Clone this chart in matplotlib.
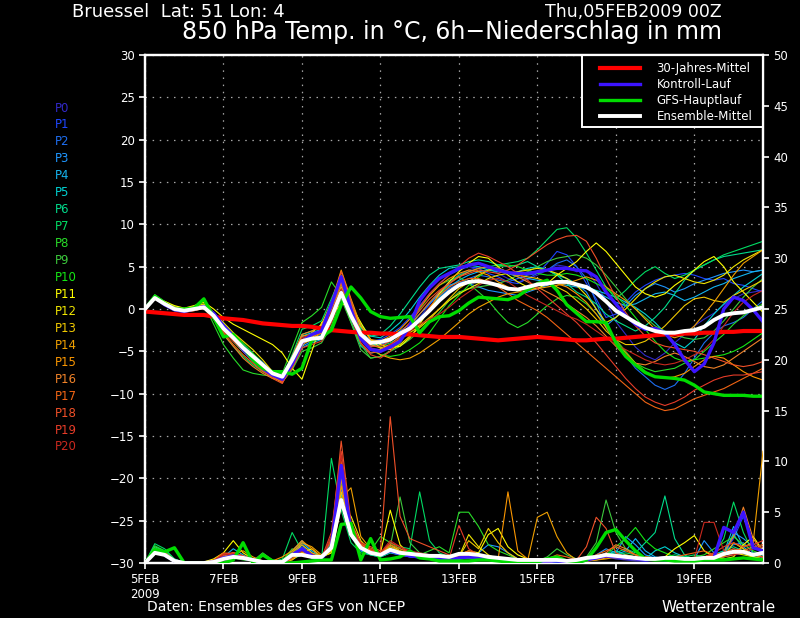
import numpy as np
import matplotlib
matplotlib.use('Agg')
import matplotlib.pyplot as plt
from matplotlib.patches import Rectangle

# time axis: 6-hourly steps, in days since 05FEB2009 00Z
step = 0.25
day_ticks = [0, 2, 4, 6, 8, 10, 12, 14]
day_labels = ['5FEB\n2009', '7FEB', '9FEB', '11FEB', '13FEB', '15FEB', '17FEB', '19FEB']

member_names = ['P%d' % k for k in range(21)]
member_colors = ['#3228c8', '#1e46ff', '#1e6ef0', '#1e96ff', '#14b4f0', '#00d2d2',
                 '#00dc8c', '#00dc64', '#28dc28', '#3cc83c', '#14e614', '#ffff00',
                 '#f0e600', '#f0c800', '#f0a000', '#fa9600', '#f08228', '#f06414',
                 '#f05028', '#e63c28', '#c8281e']

# 850 hPa temperature of the 21 members (degC)
temp_members = [
    [0.0, 1.4, 0.6, 0.1, -0.2, 0.1, 0.4, -0.6, -2.0, -3.2, -4.4, -5.4, -6.4, -7.8, -8.2, -6.2,
     -3.6, -3.0, -2.8, 0.5, 3.2, 0.2, -3.0, -4.6, -4.8, -4.4, -3.6, -2.4, -1.0, 0.5, 2.0, 3.2,
     4.0, 4.6, 5.0, 4.8, 4.2, 3.6, 3.2, 3.5, 4.0, 4.6, 5.2, 5.0, 4.4, 4.6, 3.0, 1.0,
     -1.5, -3.0, -4.5, -5.5, -6.0, -5.2, -4.0, -3.0, -2.0, -1.2, -0.5, 0.5, 1.2, 1.8, 2.0, 2.2],
    [0.0, 1.3, 0.5, -0.1, -0.3, 0.0, 0.3, -0.9, -2.4, -3.6, -4.8, -5.8, -6.8, -7.4, -7.9, -5.5,
     -3.2, -3.6, -3.2, -0.5, 2.8, -0.5, -2.6, -3.8, -3.6, -3.0, -2.2, -1.0, 0.4, 1.8, 3.0, 4.0,
     4.6, 5.0, 4.8, 4.2, 3.8, 3.2, 3.0, 3.6, 4.2, 5.4, 6.8, 6.4, 5.0, 3.0, 1.2, -1.0,
     -0.6, 0.8, 2.0, 2.8, 3.4, 3.8, 4.0, 4.2, 4.0, 3.6, 3.4, 3.6, 3.0, 2.8, 2.4, 2.0],
    [0.0, 1.2, 0.6, 0.0, -0.1, 0.1, 0.3, -0.7, -2.2, -3.3, -4.5, -5.7, -6.9, -7.8, -8.4, -6.4,
     -4.0, -3.6, -3.0, -1.2, 2.0, -0.4, -3.2, -4.4, -4.2, -3.8, -3.0, -2.0, -1.0, 0.0, 1.2, 2.4,
     3.0, 3.6, 4.0, 3.8, 3.4, 3.2, 3.6, 4.0, 4.2, 4.6, 5.4, 5.8, 5.0, 3.6, 0.8, -2.2,
     -4.0, -5.5, -7.0, -8.0, -9.0, -9.5, -9.0, -7.6, -5.8, -4.0, -2.8, -2.0, -1.6, -1.0, 0.0, 1.0],
    [0.0, 1.5, 0.7, 0.1, -0.2, 0.0, 0.2, -0.8, -2.3, -3.5, -4.4, -5.3, -6.3, -7.5, -8.0, -6.6,
     -4.4, -3.8, -3.4, -0.8, 2.4, -0.6, -3.4, -4.4, -4.0, -3.4, -2.6, -1.8, -0.6, 0.6, 1.8, 2.8,
     3.2, 3.0, 2.6, 2.2, 2.0, 1.8, 1.6, 2.0, 2.4, 2.8, 3.2, 3.4, 3.0, 2.0, 0.0, -2.0,
     -1.0, 0.4, 1.6, 2.4, 3.0, 2.6, 2.0, 2.4, 3.0, 3.4, 3.8, 4.2, 4.4, 4.6, 4.4, 4.6],
    [0.0, 1.6, 0.8, 0.2, 0.0, 0.2, 0.5, -0.5, -1.8, -3.0, -4.2, -5.4, -6.6, -7.6, -8.5, -7.0,
     -4.6, -4.0, -3.6, -1.2, 2.2, -1.4, -4.4, -5.2, -5.0, -4.4, -3.6, -2.4, -1.2, 0.0, 1.4, 2.6,
     3.4, 4.0, 4.4, 4.6, 4.6, 4.2, 3.8, 3.6, 3.4, 3.2, 3.0, 2.8, 2.6, 2.4, 2.0, 1.4,
     0.8, 0.4, 0.6, 1.2, 1.8, 2.0, 1.6, 1.0, 1.4, 2.0, 2.6, 3.0, 3.6, 4.0, 4.4, 4.6],
    [0.0, 1.5, 0.7, 0.0, -0.2, 0.1, 0.3, -0.7, -2.4, -3.8, -5.0, -6.2, -7.2, -7.9, -8.3, -6.0,
     -3.2, -2.8, -2.4, 0.0, 3.4, 0.4, -2.2, -3.2, -3.4, -2.6, -1.6, -0.2, 1.4, 2.8, 4.0, 4.8,
     5.0, 5.2, 5.0, 4.6, 4.4, 4.2, 4.4, 4.8, 5.0, 4.6, 4.0, 3.6, 3.0, 2.6, 2.2, 1.8,
     1.4, 0.8, 0.2, -0.6, -1.6, -2.8, -4.0, -4.6, -3.6, -2.0, -0.6, 0.6, 1.6, 2.6, 3.4, 4.2],
    [0.0, 1.4, 0.6, 0.0, -0.3, -0.1, 0.2, -1.0, -2.6, -3.8, -5.0, -6.0, -7.0, -7.8, -8.2, -5.8,
     -3.0, -2.6, -2.0, 0.6, 3.6, 0.8, -1.8, -3.2, -3.0, -2.0, -0.6, 1.0, 2.6, 4.0, 4.8, 5.0,
     5.2, 5.6, 5.8, 5.6, 5.2, 5.0, 5.2, 5.6, 5.0, 4.6, 4.0, 3.0, 2.0, 1.4, 0.6, -0.6,
     -1.4, -2.0, -2.6, -2.0, -1.0, 0.2, 1.8, 3.4, 4.6, 5.2, 5.8, 6.2, 6.4, 6.6, 6.8, 7.0],
    [0.0, 1.3, 0.5, -0.2, -0.4, -0.1, 0.1, -1.2, -3.0, -4.4, -5.6, -6.6, -7.4, -8.0, -8.0, -5.4,
     -2.4, -2.0, -1.4, 1.2, 4.0, 1.0, -2.4, -4.0, -4.4, -4.0, -3.4, -2.6, -1.4, 0.0, 1.6, 3.0,
     4.0, 4.4, 4.8, 5.0, 5.2, 5.4, 5.6, 6.0, 7.0, 8.2, 9.4, 9.6, 8.4, 6.6, 4.6, 2.6,
     1.2, 2.2, 3.4, 4.4, 5.0, 4.2, 3.6, 4.0, 4.6, 5.2, 5.8, 6.4, 6.8, 7.2, 7.6, 8.0],
    [0.0, 1.7, 0.9, 0.3, 0.0, 0.3, 0.6, -1.8, -4.2, -5.8, -7.2, -7.6, -7.8, -7.9, -7.6, -4.6,
     -1.6, -0.8, 0.2, 3.2, 1.6, -1.6, -4.2, -5.8, -5.6, -5.0, -4.0, -2.0, 0.0, 1.6, 2.8, 3.4,
     3.8, 3.0, 2.0, 1.0, -0.4, -1.6, -2.2, -1.6, -0.6, 0.4, 1.2, 1.6, 1.4, 0.6, -0.6, -2.0,
     -3.6, -5.0, -6.4, -7.0, -7.4, -7.2, -7.0, -6.4, -6.0, -5.0, -4.0, -3.0, -1.8, -0.8, 0.0, 0.6],
    [0.0, 1.3, 0.6, 0.0, -0.2, 0.0, 0.2, -0.8, -2.2, -3.3, -4.4, -5.4, -6.6, -7.8, -8.6, -7.2,
     -5.0, -4.6, -4.0, -2.0, 1.2, -1.6, -4.8, -5.8, -5.6, -5.0, -4.4, -3.6, -2.6, -1.6, -0.4, 1.0,
     2.0, 2.4, 2.6, 2.8, 3.0, 3.4, 4.0, 4.4, 5.0, 5.6, 6.0, 6.2, 6.4, 6.0, 5.2, 4.0,
     2.6, 1.2, 0.0, -1.0, -2.0, -2.6, -3.0, -3.4, -3.6, -3.4, -2.6, -1.4, 0.0, 1.4, 2.6, 3.6],
    [0.0, 1.5, 0.7, 0.1, -0.1, 0.2, 0.4, -0.6, -2.0, -3.0, -4.0, -5.2, -6.4, -7.6, -8.4, -6.8,
     -4.2, -3.4, -2.4, 0.2, 3.0, 0.0, -3.0, -4.8, -5.4, -5.6, -5.4, -4.8, -4.0, -2.8, -1.2, 0.4,
     1.6, 2.8, 3.8, 4.6, 5.0, 5.2, 5.0, 4.6, 4.2, 4.0, 4.0, 4.2, 4.0, 3.6, 3.0, 2.4,
     1.6, 0.4, -1.0, -2.4, -3.8, -5.0, -5.8, -6.2, -6.0, -5.8, -5.6, -5.4, -5.0, -4.4, -3.6, -2.8],
    [0.0, 1.2, 0.9, 0.4, 0.1, 0.4, 0.8, 0.0, -1.0, -1.8, -2.4, -3.0, -3.6, -4.2, -5.2, -7.0,
     -8.3, -5.0, -1.6, -0.8, 0.6, 0.4, -1.6, -3.6, -4.2, -4.6, -4.4, -3.4, -1.8, 0.0, 1.8, 3.2,
     4.4, 5.4, 6.2, 6.0, 5.0, 4.0, 3.2, 2.6, 2.4, 3.0, 4.0, 4.8, 5.6, 6.8, 7.8, 6.8,
     5.4, 4.0, 2.6, 1.8, 1.4, 1.8, 2.8, 3.6, 4.6, 5.6, 6.2, 5.0, 3.2, 2.0, 0.8, -0.4],
    [0.0, 1.3, 0.7, 0.2, 0.0, 0.2, 0.6, -0.4, -1.6, -2.8, -3.8, -4.8, -6.0, -7.4, -8.4, -7.0,
     -4.4, -2.8, -1.8, 0.8, 3.0, 0.6, -2.0, -3.6, -4.6, -4.8, -4.2, -3.2, -2.2, -1.2, 0.0, 1.0,
     1.8, 2.4, 3.0, 3.6, 4.0, 4.2, 4.4, 4.6, 4.8, 4.6, 4.2, 3.6, 2.8, 1.6, 0.0, -1.6,
     -1.0, 0.0, 1.2, 2.4, 3.2, 3.8, 4.0, 3.6, 3.2, 3.0, 3.4, 4.0, 5.0, 5.8, 6.4, 7.0],
    [0.0, 1.4, 0.8, 0.1, -0.1, 0.1, 0.5, -0.6, -2.0, -3.2, -4.6, -5.8, -6.8, -7.8, -8.6, -6.6,
     -4.0, -3.4, -2.6, 0.0, 2.6, 0.2, -2.8, -4.2, -4.6, -4.2, -3.6, -2.8, -2.0, -1.0, 0.0, 1.2,
     2.4, 3.2, 4.0, 4.6, 4.8, 4.4, 4.0, 3.8, 3.6, 3.2, 2.6, 2.0, 1.0, 0.0, -1.2, -2.6,
     -3.6, -4.2, -4.2, -3.8, -3.0, -2.0, -0.8, 0.4, 1.2, 1.4, 1.0, 0.8, 1.6, 2.2, 2.8, 3.4],
    [0.0, 1.3, 0.6, -0.1, -0.3, -0.1, 0.2, -1.0, -2.6, -3.8, -5.0, -6.2, -7.2, -8.0, -8.7, -6.8,
     -4.2, -3.6, -2.8, 0.2, 3.8, 0.6, -2.8, -4.6, -5.4, -5.8, -6.0, -5.8, -5.2, -4.4, -3.6, -2.6,
     -1.6, -0.6, 0.2, 0.8, 1.4, 1.8, 2.0, 2.2, 2.4, 2.6, 2.8, 3.0, 3.4, 3.8, 3.4, 2.6,
     1.8, 1.0, 0.0, -1.2, -2.4, -3.0, -3.4, -3.0, -2.0, -0.6, 0.8, 2.4, 4.0, 5.4, 6.2, 7.0],
    [0.0, 1.4, 0.7, 0.0, -0.2, 0.0, 0.4, -0.9, -2.5, -3.6, -4.6, -5.6, -6.6, -7.6, -8.2, -5.8,
     -3.2, -3.0, -2.6, 0.8, 4.6, 1.2, -2.0, -3.6, -3.8, -3.2, -2.4, -1.2, 0.2, 1.6, 2.8, 3.6,
     4.2, 4.6, 4.4, 4.0, 3.2, 2.6, 2.2, 2.4, 2.8, 3.0, 3.0, 2.6, 1.8, 0.8, -0.6, -2.2,
     -3.8, -5.2, -6.4, -7.4, -8.0, -8.2, -8.0, -7.6, -6.8, -6.0, -5.6, -5.8, -6.6, -7.4, -8.0, -8.4],
    [0.0, 1.3, 0.6, -0.1, -0.3, -0.2, 0.1, -1.2, -3.0, -4.4, -5.8, -6.8, -7.6, -8.2, -8.4, -5.6,
     -3.0, -2.6, -2.0, 0.4, 3.2, 0.0, -3.2, -4.8, -4.8, -4.2, -3.2, -2.0, -0.6, 0.8, 2.0, 3.0,
     3.8, 4.4, 4.8, 5.0, 4.8, 4.4, 3.8, 3.2, 2.6, 2.0, 1.4, 0.6, -0.2, -1.0, -2.0, -3.2,
     -4.4, -5.6, -6.4, -6.6, -6.2, -5.6, -5.2, -5.6, -6.2, -6.8, -7.0, -6.6, -5.8, -5.0, -4.2, -3.4],
    [0.0, 1.2, 0.5, -0.2, -0.4, -0.2, 0.1, -1.1, -2.8, -4.2, -5.4, -6.4, -7.4, -8.0, -8.4, -6.0,
     -3.8, -3.2, -2.8, 0.0, 3.0, -0.6, -4.0, -5.2, -5.0, -4.4, -3.6, -2.6, -1.4, 0.2, 1.6, 2.6,
     3.2, 3.6, 3.6, 3.2, 2.6, 1.8, 1.0, 0.4, -0.2, -1.0, -2.0, -3.0, -4.0, -5.0, -6.0, -7.0,
     -8.0, -9.0, -10.0, -11.0, -11.6, -12.0, -11.8, -11.2, -10.6, -10.2, -9.8, -9.4, -8.8, -8.2, -7.6, -7.0],
    [0.0, 1.4, 0.6, 0.0, -0.2, 0.0, 0.3, -0.8, -2.4, -3.6, -4.8, -6.0, -7.2, -8.2, -8.8, -6.4,
     -3.6, -3.2, -2.6, 0.4, 4.4, 1.0, -2.8, -4.4, -4.4, -3.8, -2.8, -1.6, -0.2, 1.2, 2.2, 3.0,
     3.8, 4.2, 4.6, 4.4, 4.2, 4.6, 5.2, 6.0, 6.8, 7.6, 8.2, 8.6, 8.7, 8.0, 6.0, 3.6,
     1.4, -0.4, -2.0, -3.2, -4.0, -4.4, -4.6, -4.8, -5.0, -5.4, -5.8, -6.2, -6.6, -6.8, -6.6, -6.2],
    [0.0, 1.5, 0.8, 0.2, 0.0, 0.1, 0.4, -0.6, -2.0, -3.2, -4.4, -5.6, -6.8, -7.8, -8.6, -7.0,
     -4.6, -4.2, -3.8, -1.6, 1.6, -1.0, -4.0, -5.4, -5.8, -5.0, -3.6, -1.8, 0.2, 1.8, 3.0, 4.0,
     5.0, 6.0, 6.6, 6.2, 5.6, 5.0, 4.2, 3.4, 2.4, 1.4, 0.4, -0.6, -1.6, -2.8, -4.0, -5.4,
     -6.8, -8.2, -9.4, -10.4, -11.0, -11.4, -11.0, -10.4, -9.6, -9.0, -8.4, -8.0, -7.8, -7.8, -7.6, -7.4],
    [0.0, 1.3, 0.6, 0.0, -0.2, 0.0, 0.3, -0.9, -2.6, -3.8, -4.8, -5.8, -6.6, -7.4, -8.0, -6.2,
     -3.4, -3.0, -2.6, -0.4, 2.4, -0.4, -3.0, -4.6, -5.0, -4.2, -3.4, -2.6, -1.8, -1.2, -0.6, 0.2,
     1.2, 2.0, 2.8, 3.4, 3.6, 3.2, 2.4, 1.6, 1.0, 0.4, -0.2, -0.8, -1.2, -1.8, -2.6, -3.4,
     -4.2, -4.8, -5.4, -6.0, -6.4, -6.6, -6.4, -6.0, -5.4, -4.8, -3.6, -2.0, -0.4, 0.8, 1.6, 2.2],
]

# 6h precipitation of the 21 members (mm)
prec_members = [
    [0, 1.2, 0.9, 0.3, 0, 0, 0, 0.1, 0.4, 0.6, 0.5, 0.3, 0.1, 0, 0, 0.6, 0.9, 0.5, 0.4, 1.2, 8.0, 2.6, 1.4, 0.8,
     0.6, 1.0, 0.8, 0.6, 0.5, 0.4, 0.6, 0.4, 0.6, 0.8, 0.6, 0.4, 0.3, 0.2, 0.2, 0.1, 0.2, 0.2, 0.1, 0.1, 0.2, 0.4, 0.3, 0.6,
     0.4, 0.3, 0.2, 0.2, 0.3, 0.4, 0.5, 0.3, 0.2, 0.3, 0.4, 0.6, 0.8, 0.9, 0.6, 0.5],
    [0, 1.0, 0.8, 0.2, 0, 0, 0, 0.1, 0.5, 0.8, 0.6, 0.3, 0.1, 0.1, 0, 1.0, 1.8, 0.6, 0.5, 1.6, 7.2, 3.0, 1.6, 1.0,
     0.8, 1.2, 1.0, 0.7, 0.6, 0.5, 0.4, 0.4, 0.6, 0.5, 0.4, 0.3, 0.2, 0.2, 0.1, 0.1, 0.2, 0.3, 0.2, 0.1, 0.1, 0.3, 0.5, 0.8,
     0.5, 0.4, 0.3, 0.2, 0.3, 0.2, 0.3, 0.2, 0.3, 0.4, 0.6, 1.0, 2.4, 4.6, 2.0, 0.8],
    [0, 1.1, 0.8, 0.2, 0, 0, 0, 0.2, 0.6, 0.8, 0.5, 0.2, 0.1, 0, 0, 0.8, 1.6, 0.8, 0.4, 1.4, 9.0, 3.2, 1.2, 0.9,
     0.7, 1.6, 1.2, 0.8, 0.6, 0.5, 0.4, 0.3, 0.5, 0.6, 0.5, 0.4, 0.3, 0.4, 0.3, 0.2, 0.2, 0.3, 0.2, 0.1, 0.2, 0.3, 0.6, 1.0,
     0.8, 0.6, 0.4, 0.3, 0.4, 0.5, 0.4, 0.3, 0.4, 0.6, 0.8, 1.2, 1.8, 2.0, 1.0, 0.8],
    [0, 1.3, 1.0, 0.3, 0, 0, 0, 0.1, 0.4, 0.6, 0.4, 0.2, 0.1, 0, 0, 1.2, 2.2, 1.0, 0.6, 1.8, 8.4, 3.6, 1.8, 1.2,
     1.0, 1.4, 1.0, 0.8, 0.6, 0.6, 0.5, 0.4, 0.6, 0.8, 1.0, 1.8, 1.6, 1.0, 0.4, 0.3, 0.2, 0.4, 0.3, 0.2, 0.2, 0.4, 0.8, 1.4,
     1.0, 2.6, 1.8, 0.8, 0.5, 0.4, 0.3, 0.4, 0.4, 2.2, 1.0, 0.6, 3.0, 2.4, 1.6, 1.0],
    [0, 1.2, 0.9, 0.2, 0, 0, 0, 0.2, 0.6, 1.4, 0.8, 0.3, 0.1, 0, 0, 1.0, 2.0, 1.2, 0.6, 2.0, 7.6, 3.2, 1.4, 1.0,
     0.8, 1.2, 0.8, 0.7, 0.6, 0.5, 0.4, 0.3, 0.4, 0.5, 0.4, 0.3, 0.2, 0.2, 0.1, 0.1, 0.1, 0.2, 0.1, 0.1, 0.2, 0.3, 0.4, 0.6,
     0.8, 1.2, 2.4, 1.2, 0.6, 0.4, 0.3, 0.3, 0.3, 0.4, 0.5, 1.0, 3.6, 1.6, 0.8, 0.6],
    [0, 1.4, 1.0, 0.3, 0, 0, 0, 0.1, 0.5, 0.7, 0.4, 0.2, 0.1, 0, 0, 0.6, 1.2, 0.6, 0.4, 1.6, 6.8, 2.6, 1.2, 0.8,
     0.6, 1.0, 0.8, 0.6, 0.5, 0.4, 0.4, 0.3, 0.4, 0.6, 0.5, 0.4, 0.3, 0.2, 0.2, 0.1, 0.1, 0.2, 0.1, 0.1, 0.2, 0.2, 0.4, 0.8,
     1.2, 0.8, 0.6, 0.4, 1.2, 1.6, 1.0, 0.6, 0.4, 0.6, 0.8, 1.0, 2.8, 1.4, 0.8, 0.6],
    [0, 1.6, 1.2, 0.4, 0, 0, 0, 0.1, 0.5, 0.6, 0.4, 0.2, 0.1, 0, 0, 0.4, 0.8, 0.5, 0.4, 2.6, 9.4, 3.0, 1.4, 1.0,
     0.8, 1.6, 1.2, 0.8, 0.6, 0.5, 0.4, 0.3, 0.6, 1.0, 0.8, 0.6, 0.4, 0.3, 0.2, 0.2, 0.2, 0.3, 0.2, 0.1, 0.2, 0.4, 0.6, 0.8,
     1.0, 1.4, 1.0, 2.0, 3.0, 6.6, 2.4, 0.8, 0.3, 0.4, 0.8, 1.2, 1.6, 1.2, 0.8, 0.6],
    [0, 1.9, 1.4, 0.4, 0, 0, 0, 0.1, 0.4, 0.6, 0.5, 0.3, 0.2, 0.1, 0.4, 3.0, 1.2, 0.6, 0.4, 10.3, 5.2, 2.0, 1.0, 0.8,
     0.6, 1.0, 1.6, 1.4, 7.0, 2.2, 1.0, 0.6, 0.8, 0.6, 0.5, 0.4, 0.3, 0.2, 0.2, 0.1, 0.2, 0.3, 0.2, 0.1, 0.1, 0.2, 0.4, 0.6,
     0.8, 1.0, 0.8, 0.6, 0.5, 0.6, 0.8, 0.6, 0.8, 0.6, 0.8, 2.4, 6.0, 3.0, 1.0, 0.6],
    [0, 1.7, 1.2, 0.3, 0, 0, 0, 0.1, 0.4, 0.5, 0.3, 0.2, 0.1, 0.1, 0.2, 0.6, 0.8, 0.6, 0.5, 1.4, 8.6, 3.0, 1.6, 1.2,
     2.6, 2.0, 1.4, 1.0, 0.8, 1.2, 1.6, 1.0, 5.0, 5.0, 3.6, 1.8, 1.2, 0.8, 0.4, 0.3, 0.2, 0.4, 0.3, 0.2, 0.3, 0.4, 0.6, 0.8,
     0.6, 0.5, 0.4, 0.3, 0.4, 0.6, 0.5, 0.4, 0.6, 0.8, 1.4, 2.0, 2.6, 1.8, 1.2, 0.8],
    [0, 1.5, 1.1, 0.3, 0, 0, 0, 0.1, 0.6, 0.8, 0.4, 0.2, 1.0, 0.3, 0.2, 1.4, 1.0, 0.6, 0.4, 1.8, 7.8, 3.4, 1.6, 1.0,
     1.0, 1.6, 6.5, 2.0, 1.0, 0.8, 0.6, 0.4, 0.6, 0.8, 0.6, 0.4, 0.3, 0.2, 0.2, 0.1, 0.2, 0.6, 1.4, 0.8, 0.4, 0.6, 2.0, 6.2,
     3.0, 1.4, 0.8, 0.6, 0.4, 0.3, 0.4, 0.3, 0.4, 0.6, 0.8, 1.0, 1.4, 1.0, 0.6, 0.4],
    [0, 1.4, 1.0, 0.3, 0, 0, 0, 0.2, 0.5, 0.7, 0.5, 0.3, 0.1, 0, 0.3, 1.2, 1.4, 0.8, 0.5, 2.0, 8.0, 3.0, 1.4, 1.0,
     0.8, 1.2, 1.0, 0.8, 0.7, 0.6, 0.5, 0.4, 0.4, 0.5, 0.4, 0.3, 0.2, 0.2, 0.1, 0.1, 0.1, 0.2, 0.2, 0.1, 0.1, 0.2, 0.4, 0.8,
     1.6, 2.4, 3.5, 2.2, 1.4, 1.0, 0.6, 0.4, 0.3, 0.4, 0.6, 0.8, 1.2, 1.0, 0.6, 0.4],
    [0, 1.1, 0.8, 0.2, 0, 0, 0.1, 0.4, 1.0, 2.2, 1.0, 0.4, 0.2, 0.1, 0.1, 0.3, 1.0, 1.4, 0.6, 1.0, 6.0, 3.6, 1.8, 1.4,
     1.0, 5.2, 1.8, 0.8, 0.6, 0.5, 0.4, 0.3, 0.8, 1.2, 1.0, 2.8, 3.4, 1.6, 0.8, 0.4, 0.2, 0.3, 0.2, 0.1, 0.1, 0.3, 0.6, 0.8,
     0.6, 0.5, 0.4, 0.3, 0.4, 0.6, 1.4, 2.0, 2.7, 1.2, 0.6, 0.4, 0.6, 1.8, 2.6, 1.2],
    [0, 1.2, 0.9, 0.2, 0, 0, 0, 0.2, 0.6, 1.0, 0.7, 0.3, 0.1, 0, 0, 0.4, 1.0, 0.8, 0.6, 1.0, 5.6, 4.6, 2.2, 1.2,
     1.0, 1.8, 1.2, 0.8, 0.6, 0.5, 0.4, 0.4, 0.6, 2.8, 1.6, 0.8, 0.4, 0.3, 0.2, 0.2, 0.2, 0.3, 0.2, 0.1, 0.1, 0.2, 0.4, 0.6,
     0.5, 0.4, 0.3, 0.3, 0.4, 0.5, 0.4, 0.3, 0.4, 0.5, 0.6, 0.8, 1.0, 0.8, 0.6, 0.4],
    [0, 1.3, 1.0, 0.3, 0, 0, 0, 0.1, 0.5, 0.8, 0.6, 0.3, 0.1, 0, 0, 0.8, 1.8, 1.0, 0.6, 1.2, 7.0, 3.8, 2.0, 1.2,
     0.8, 1.4, 1.0, 0.8, 0.6, 0.5, 0.4, 0.4, 0.6, 2.2, 1.4, 3.4, 2.0, 1.0, 0.4, 0.2, 0.2, 0.3, 0.2, 0.1, 0.1, 0.2, 0.3, 0.5,
     0.6, 0.8, 0.6, 0.4, 0.3, 0.4, 0.3, 0.2, 0.3, 0.4, 0.5, 0.6, 2.0, 1.4, 0.8, 0.6],
    [0, 1.2, 0.9, 0.3, 0, 0, 0, 0.2, 0.6, 0.9, 1.2, 0.6, 0.2, 0.1, 0, 1.0, 2.0, 1.6, 0.8, 1.4, 6.4, 7.4, 2.6, 1.4,
     1.0, 1.6, 1.2, 1.0, 0.8, 0.6, 0.5, 0.4, 0.5, 0.6, 0.5, 0.4, 0.3, 0.4, 0.3, 0.2, 4.5, 5.0, 2.6, 1.0, 0.3, 0.2, 0.3, 0.4,
     0.6, 0.5, 0.4, 0.3, 0.3, 0.4, 0.3, 0.2, 0.3, 0.4, 0.6, 0.8, 1.0, 1.6, 2.0, 11.0],
    [0, 1.3, 1.0, 0.3, 0, 0, 0, 0.1, 0.6, 1.0, 0.6, 0.3, 0.1, 0.2, 0.6, 1.2, 2.2, 1.4, 0.6, 1.6, 7.6, 3.4, 1.8, 1.2,
     1.0, 1.4, 1.0, 0.8, 0.7, 0.6, 0.5, 0.4, 0.5, 0.8, 0.6, 0.5, 0.4, 7.0, 1.2, 0.4, 0.3, 0.4, 0.3, 0.2, 0.2, 0.3, 0.5, 0.6,
     0.5, 0.4, 0.4, 0.3, 0.3, 0.5, 0.4, 0.3, 0.4, 0.5, 0.6, 0.8, 1.2, 1.0, 0.8, 0.6],
    [0, 1.2, 0.8, 0.2, 0, 0, 0, 0.2, 0.8, 0.9, 0.6, 0.3, 0.1, 0, 0, 0.6, 1.4, 0.8, 0.5, 1.8, 8.2, 3.0, 1.6, 1.0,
     0.8, 1.4, 1.0, 0.8, 0.6, 0.5, 0.4, 0.3, 0.4, 0.6, 0.5, 0.4, 0.3, 0.2, 0.2, 0.1, 0.2, 0.4, 0.3, 0.2, 0.2, 0.3, 0.6, 1.0,
     1.8, 1.4, 0.8, 0.6, 0.5, 0.6, 0.5, 0.4, 0.4, 0.6, 0.8, 1.0, 2.6, 5.5, 2.4, 1.0],
    [0, 1.1, 0.8, 0.2, 0, 0, 0, 0.3, 1.0, 0.9, 0.6, 0.3, 0.1, 0, 0, 0.4, 1.0, 0.8, 0.6, 2.4, 10.0, 3.6, 1.8, 1.4,
     1.0, 1.8, 1.4, 1.0, 0.8, 0.6, 0.5, 0.4, 0.8, 1.2, 0.8, 0.5, 0.4, 0.3, 0.2, 0.2, 0.2, 0.4, 0.8, 0.6, 0.3, 0.4, 0.8, 1.2,
     1.6, 1.2, 0.8, 0.6, 0.5, 0.4, 0.6, 0.8, 1.0, 1.2, 0.8, 0.6, 0.8, 1.2, 1.6, 1.8],
    [0, 1.2, 0.9, 0.3, 0, 0, 0, 0.2, 0.8, 1.0, 0.7, 0.4, 0.2, 0, 0, 0.6, 1.2, 0.8, 0.6, 2.2, 12.0, 4.0, 2.0, 1.6,
     1.2, 14.4, 4.6, 2.4, 2.0, 1.6, 1.2, 0.8, 0.6, 0.8, 0.6, 0.5, 0.4, 0.3, 0.2, 0.2, 0.2, 0.3, 0.2, 0.2, 0.3, 1.6, 4.5, 3.4,
     1.0, 0.6, 0.4, 0.3, 0.3, 0.4, 0.3, 0.3, 0.4, 0.6, 0.8, 1.0, 1.4, 1.2, 0.8, 0.6],
    [0, 1.3, 1.0, 0.3, 0, 0, 0, 0.2, 0.9, 1.0, 0.7, 0.3, 0.1, 0, 0, 0.8, 1.4, 0.9, 0.5, 3.0, 11.0, 3.8, 1.8, 1.2,
     1.0, 2.0, 1.6, 1.0, 0.8, 0.6, 0.5, 0.4, 3.7, 1.4, 0.8, 0.5, 0.4, 0.3, 0.2, 0.2, 0.2, 0.3, 0.3, 0.2, 0.2, 0.3, 0.5, 0.6,
     0.6, 0.5, 0.4, 0.4, 0.4, 0.6, 0.6, 0.4, 0.4, 0.6, 1.0, 1.6, 2.0, 1.6, 1.8, 2.2],
    [0, 1.2, 0.9, 0.3, 0, 0, 0, 0.2, 0.8, 0.9, 0.6, 0.3, 0.1, 0, 0, 0.6, 1.2, 0.8, 0.5, 2.6, 10.6, 3.4, 2.0, 1.4,
     1.0, 2.2, 1.6, 1.2, 1.0, 0.8, 0.6, 0.5, 0.6, 0.8, 0.6, 0.5, 0.4, 0.3, 0.2, 0.2, 0.2, 0.3, 0.2, 0.2, 0.2, 0.3, 0.4, 0.6,
     0.6, 0.5, 0.4, 0.3, 0.3, 0.4, 0.4, 0.3, 0.4, 4.0, 4.0, 1.2, 0.8, 1.0, 1.4, 1.6],
]

temp_climate = [-0.3, -0.4, -0.5, -0.6, -0.7, -0.7, -0.7, -0.9, -1.1, -1.2, -1.3, -1.5, -1.7, -1.8, -1.9, -2.0,
                -2.0, -2.1, -2.3, -2.5, -2.6, -2.7, -2.8, -2.8, -2.9, -2.9, -3.0, -3.0, -3.1, -3.2, -3.3, -3.3,
                -3.3, -3.4, -3.5, -3.6, -3.7, -3.6, -3.5, -3.4, -3.3, -3.4, -3.5, -3.6, -3.7, -3.7, -3.6, -3.5,
                -3.5, -3.4, -3.3, -3.2, -3.1, -3.0, -3.0, -2.9, -2.9, -2.8, -2.8, -2.7, -2.7, -2.6, -2.6, -2.6]
temp_control = [0.0, 1.4, 0.5, -0.1, -0.3, 0.0, 0.3, -0.5, -2.0, -3.2, -4.8, -6.0, -7.0, -7.8, -8.3, -6.5,
                -4.0, -3.0, -2.6, 0.5, 3.8, 0.0, -3.5, -4.8, -5.0, -4.5, -3.8, -2.0, 1.0, 2.5, 3.6, 4.2,
                4.8, 5.2, 5.4, 5.0, 4.6, 4.3, 4.2, 4.2, 4.4, 4.6, 4.8, 4.8, 4.6, 4.5, 3.8, 2.0,
                0.6, -0.8, -1.8, -2.4, -2.3, -2.8, -4.2, -6.0, -7.4, -6.5, -4.0, 0.0, 1.4, 1.0, -0.1, -1.5]
temp_gfs = [0.0, 1.5, 0.7, 0.0, 0.0, 0.1, 1.2, -1.0, -3.3, -3.0, -4.5, -6.0, -7.0, -7.4, -7.4, -7.7,
            -7.0, -3.7, -3.3, -2.5, 0.5, 2.6, 1.3, -0.3, -0.9, -1.1, -1.0, -0.9, -2.8, -1.5, -0.9, -0.8,
            -0.2, 0.7, 1.4, 1.3, 1.2, 1.1, 1.5, 2.3, 3.0, 3.4, 2.2, 0.5, -0.5, -1.5, -1.5, -1.6,
            -4.0, -5.6, -6.6, -7.5, -8.0, -8.1, -8.2, -8.4, -9.0, -9.8, -10.0, -10.2, -10.2, -10.2, -10.3, -10.3]
temp_mean = [0.0, 1.3, 0.6, 0.0, -0.2, 0.0, 0.2, -0.8, -2.3, -3.4, -4.6, -5.6, -6.6, -7.6, -8.0, -6.0,
             -3.8, -3.5, -3.4, -1.0, 1.9, -0.8, -3.0, -4.0, -3.9, -3.6, -2.9, -2.3, -1.3, -0.2, 1.0, 2.0,
             2.8, 3.2, 3.3, 3.1, 2.8, 2.4, 2.3, 2.6, 2.9, 3.0, 3.2, 3.2, 2.9, 2.6, 1.9, 0.9,
             -0.2, -0.9, -1.6, -2.2, -2.6, -2.8, -2.8, -2.6, -2.5, -2.1, -1.3, -0.7, -0.5, -0.4, -0.1, 0.2]

prec_control = [0, 1.1, 0.8, 0.2, 0, 0, 0, 0.1, 0.5, 0.7, 0.5, 0.3, 0.1, 0, 0, 0.8, 1.4, 0.7, 0.5, 1.6, 9.6, 3.0, 1.4, 1.0,
                0.8, 1.2, 0.9, 0.7, 0.6, 0.5, 0.4, 0.3, 0.5, 0.6, 0.5, 0.4, 0.3, 0.2, 0.2, 0.1, 0.2, 0.2, 0.2, 0.1, 0.1, 0.3, 0.5, 0.7,
                0.6, 0.5, 0.4, 0.3, 0.4, 0.5, 0.4, 0.3, 0.4, 0.5, 0.5, 3.5, 3.0, 5.0, 1.5, 1.2]
prec_gfs = [0, 1.3, 1.1, 1.5, 0, 0, 0, 0, 0, 0.3, 2.0, 0, 0.8, 0.2, 0, 0, 0.1, 0.2, 0.3, 0.3, 3.8, 3.9, 0.3, 2.4,
            0.3, 0.4, 0.6, 1.2, 0.5, 0.4, 0.2, 0.2, 0.2, 0.2, 0.3, 0.3, 0.2, 0.1, 0.1, 0.1, 0.1, 0.4, 0.6, 0.2, 0.0, 0.3, 1.5, 3.0,
            3.3, 2.2, 1.2, 0.4, 0.3, 0.3, 0.2, 0.2, 0.2, 0.3, 0.3, 0.3, 0.4, 0.5, 0.4, 0.3]
prec_mean = [0, 1.0, 0.8, 0.2, 0.0, 0.0, 0.0, 0.1, 0.4, 0.6, 0.5, 0.3, 0.1, 0.1, 0.1, 0.8, 0.8, 0.6, 0.6, 1.5, 6.2, 2.8, 1.5, 1.0,
             0.8, 1.3, 1.0, 0.9, 0.8, 0.7, 0.7, 0.6, 0.9, 0.9, 0.8, 0.6, 0.5, 0.4, 0.3, 0.3, 0.3, 0.3, 0.3, 0.2, 0.3, 0.5, 0.6, 0.8,
             0.7, 0.6, 0.5, 0.4, 0.4, 0.5, 0.5, 0.4, 0.4, 0.5, 0.5, 0.9, 1.1, 1.1, 0.8, 1.0]


def days(vals):
    return np.arange(len(vals)) * step


plt.rcParams['font.family'] = ['DejaVu Sans']
fig = plt.figure(figsize=(8.0, 6.18), dpi=100, facecolor='black')
ax = fig.add_axes([145 / 800, 55 / 618, 618 / 800, 508 / 618])
ax.set_facecolor('black')
ax2 = ax.twinx()

# members
for vals, col in zip(temp_members, member_colors):
    ax.plot(days(vals), vals, color=col, lw=0.8, zorder=3)
for vals, col in zip(prec_members, member_colors):
    ax2.plot(days(vals), vals, color=col, lw=0.8, zorder=3)

ax.plot(days(temp_climate), temp_climate, color='#ff0000', lw=3.0, zorder=5, label='30-Jahres-Mittel')
ax.plot(days(temp_control), temp_control, color='#3c14ff', lw=2.4, zorder=6, label='Kontroll-Lauf')
ax.plot(days(temp_gfs), temp_gfs, color='#00dc00', lw=2.4, zorder=7, label='GFS-Hauptlauf')
ax.plot(days(temp_mean), temp_mean, color='white', lw=2.8, zorder=8, label='Ensemble-Mittel')

ax2.plot(days(prec_control), prec_control, color='#3c14ff', lw=2.4, zorder=6)
ax2.plot(days(prec_gfs), prec_gfs, color='#00dc00', lw=2.4, zorder=7)
ax2.plot(days(prec_mean), prec_mean, color='white', lw=2.8, zorder=8)

ax.set_xlim(0, 15.75)
ax.set_ylim(-30, 30)
ax2.set_ylim(0, 50)
ax.set_yticks(np.arange(-30, 31, 5))
ax2.set_yticks(np.arange(0, 51, 5))
ax.set_xticks(day_ticks)
ax.set_xticklabels(day_labels)

for a in (ax, ax2):
    for sp in a.spines.values():
        sp.set_color('white')
        sp.set_linewidth(1.6)
    a.tick_params(colors='white', direction='out', length=4, width=1.2, labelsize=8.5)

ax.grid(True, color='#a8a8a8', lw=0.9, linestyle=(0, (1.2, 4.5)))
ax.set_axisbelow(True)

# legend box in the upper right corner
box = Rectangle((437 / 618, 436 / 508), 181 / 618, 72 / 508, transform=ax.transAxes,
                facecolor='black', edgecolor='white', lw=1.4, zorder=19)
ax.add_patch(box)
leg = ax.legend(loc='upper left', bbox_to_anchor=(455 / 618, 1 - 7 / 508), borderaxespad=0.0,
                fontsize=8.5, frameon=False, handlelength=3.4,
                handletextpad=1.4, borderpad=0.0, labelspacing=0.26)
leg.set_zorder(20)
for t in leg.get_texts():
    t.set_color('white')

# member names at the left
for k, (name, col) in enumerate(zip(member_names, member_colors)):
    fig.text(55 / 800, 1 - (108 + k * 16.95) / 618, name, color=col, fontsize=8.5,
             ha='left', va='center')

fig.text(72 / 800, 1 - 12 / 618, 'Bruessel  Lat: 51 Lon: 4', color='white', fontsize=13,
         ha='left', va='center')
fig.text(545 / 800, 1 - 12 / 618, 'Thu,05FEB2009 00Z', color='white', fontsize=12.5,
         ha='left', va='center')
fig.text(452 / 800, 1 - 32 / 618, '850 hPa Temp. in °C, 6h\u2212Niederschlag in mm', color='white',
         fontsize=17, ha='center', va='center')
fig.text(147 / 800, 1 - 607 / 618, 'Daten: Ensembles des GFS von NCEP', color='white', fontsize=10,
         ha='left', va='center')
fig.text(776 / 800, 1 - 607 / 618, 'Wetterzentrale', color='white', fontsize=11,
         ha='right', va='center')

fig.savefig('out.png', dpi=100, facecolor='black')
